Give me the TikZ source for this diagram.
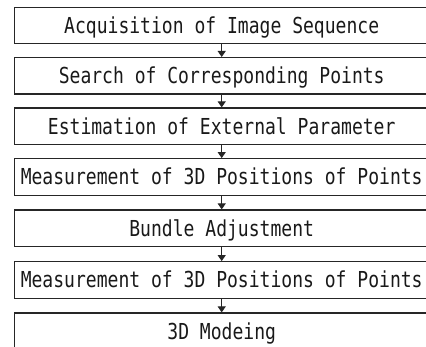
\documentclass[tikz,border=0pt]{standalone}
\usepackage{fontspec}
\setmonofont{DejaVu Sans Mono}[FakeStretch=0.82]
\usepackage{tikz}
\usetikzlibrary{arrows.meta}

\tikzset{
  stepbox/.style={draw=black!85, line width=1.3pt, minimum width=414pt,
    minimum height=36.5pt, inner sep=0pt, text=black!90,
    text height=16pt, text depth=0pt,
    font=\ttfamily\fontsize{22}{24}\selectfont},
  flow/.style={-{Triangle[width=8pt,length=6pt]}, line width=1.1pt, draw=black!85}
}

\begin{document}
\begin{tikzpicture}[x=1pt, y=-1pt]
  % Frame of the picture (boxes run past the right and bottom edge)
  \useasboundingbox (0,0) rectangle (426,347);
  \clip (0,0) rectangle (426,347);

  % Key positions
  \def\xc{221.7}

  % Steps
  \node[stepbox] (acq) at (\xc, 25.6) {Acquisition of Image Sequence};
  \node[stepbox] (corr) at (\xc, 75.9) {Search of Corresponding Points};
  \node[stepbox] (extp) at (\xc, 126.3) {Estimation of External Parameter};
  \node[stepbox] (meas1) at (\xc, 177.0) {Measurement of 3D Positions of Points};
  \node[stepbox] (bundle) at (\xc, 228.3) {Bundle Adjustment};
  \node[stepbox] (meas2) at (\xc, 280.0) {Measurement of 3D Positions of Points};
  \node[stepbox] (model) at (\xc, 331.3) {3D Modeing};

  % Arrows between steps
  \draw[flow] (acq) -- (corr);
  \draw[flow] (corr) -- (extp);
  \draw[flow] (extp) -- (meas1);
  \draw[flow] (meas1) -- (bundle);
  \draw[flow] (bundle) -- (meas2);
  \draw[flow] (meas2) -- (model);
\end{tikzpicture}
\end{document}
